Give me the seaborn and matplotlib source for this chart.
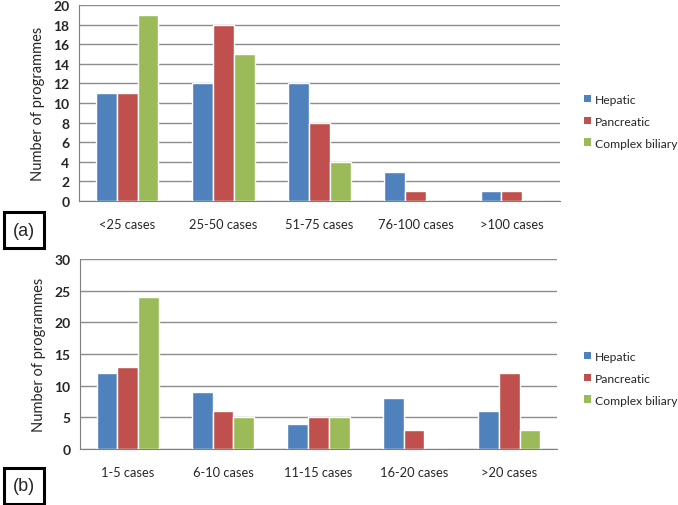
import matplotlib
matplotlib.use("Agg")
import matplotlib.pyplot as plt
import seaborn as sns
import pandas as pd
from matplotlib.patches import Patch

series = ["Hepatic", "Pancreatic", "Complex biliary"]
colors = ["#4F81BD", "#C0504D", "#9BBB59"]

cats_a = ["<25 cases", "25-50 cases", "51-75 cases", "76-100 cases", ">100 cases"]
hepatic_a = [11, 12, 12, 3, 1]
pancreatic_a = [11, 18, 8, 1, 1]
biliary_a = [19, 15, 4, 0, 0]

cats_b = ["1-5 cases", "6-10 cases", "11-15 cases", "16-20 cases", ">20 cases"]
hepatic_b = [12, 9, 4, 8, 6]
pancreatic_b = [13, 6, 5, 3, 12]
biliary_b = [24, 5, 5, 0, 3]

def long_df(cats, h, p, b):
    rows = []
    for s, vals in zip(series, [h, p, b]):
        for c, v in zip(cats, vals):
            rows.append({"cat": c, "series": s, "val": v})
    return pd.DataFrame(rows)

sns.set_style("white")
plt.rcParams["font.family"] = ["Lato", "DejaVu Sans"]

fig = plt.figure(figsize=(6.78, 5.06), dpi=100)
ax_a = fig.add_axes([79/678, 1-202/506, (560-79)/678, (202-6)/506])
ax_b = fig.add_axes([80/678, 1-450/506, (557-80)/678, (450-260)/506])

def draw(ax, cats, h, p, b, ymax, ystep, legend_y):
    df = long_df(cats, h, p, b)
    sns.barplot(data=df, x="cat", y="val", hue="series", order=cats,
                hue_order=series, palette=colors, saturation=1, width=0.65,
                ax=ax, legend=False, zorder=3)
    ax.set_ylim(0, ymax)
    ax.set_xlim(-0.5, len(cats) - 0.5)
    ax.set_yticks(range(0, ymax + 1, ystep))
    ax.yaxis.grid(True, color="#8c8c8c", linewidth=1, zorder=0)
    ax.set_axisbelow(True)
    ax.set_xlabel("")
    ax.set_ylabel("Number of programmes", fontsize=10.5, labelpad=6)
    for s in ["top", "right"]:
        ax.spines[s].set_visible(False)
    ax.spines["left"].set_color("#7f7f7f")
    ax.spines["bottom"].set_color("#7f7f7f")
    ax.tick_params(axis="x", which="major", length=0, pad=12, labelsize=9.3)
    ax.set_xticks([i - 0.5 for i in range(len(cats) + 1)], minor=True)
    ax.tick_params(axis="x", which="minor", length=5, color="#7f7f7f", direction="out")
    ax.tick_params(axis="y", length=4, color="#7f7f7f", direction="out", labelsize=10, pad=3)
    for lab in ax.get_yticklabels():
        lab.set_fontweight("bold")
    handles = [Patch(facecolor=c, edgecolor="none") for c in colors]
    fig.legend(handles, series, loc="upper left", bbox_to_anchor=(579/678, legend_y),
               frameon=False, fontsize=8.7, handlelength=0.6, handleheight=0.6,
               handletextpad=0.35, labelspacing=0.9, borderaxespad=0)

draw(ax_a, cats_a, hepatic_a, pancreatic_a, biliary_a, 20, 2, 1 - 90/506)
draw(ax_b, cats_b, hepatic_b, pancreatic_b, biliary_b, 30, 5, 1 - 347/506)

for lbl, y in [("(a)", 1 - 231/506), ("(b)", 1 - 487/506)]:
    fig.text(24/678, y, lbl, ha="center", va="center", fontsize=13,
             family=["Liberation Sans", "DejaVu Sans"],
             bbox=dict(boxstyle="square,pad=0.5", facecolor="white",
                       edgecolor="black", linewidth=2.2))

fig.savefig("out.png", dpi=100)
